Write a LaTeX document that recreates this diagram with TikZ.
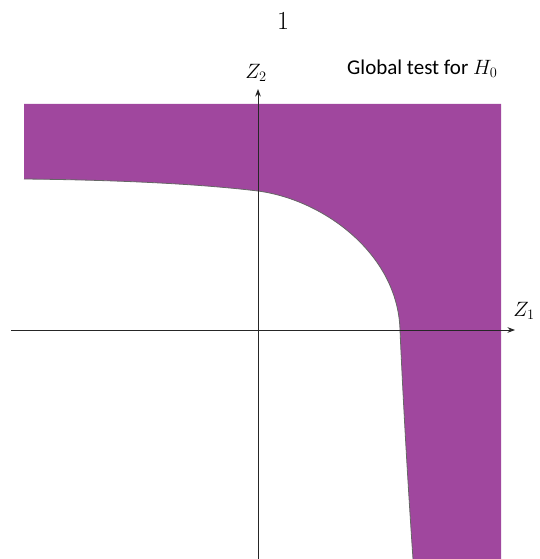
\documentclass[tikz,border=0pt]{standalone}
\usepackage{fontspec}
\usepackage{amsmath}
\usepackage{tikz}
\usetikzlibrary{arrows.meta,positioning}
\newfontfamily\labelfont{Carlito}
\definecolor{regionpurple}{HTML}{A0479E}

\begin{document}
\begin{tikzpicture}[x=1pt,y=-1pt,>=Stealth,
 axis/.style={draw=black!85,line width=1pt},
 axislabel/.style={inner sep=0pt,font=\fontsize{20}{20}\selectfont},
 region/.style={fill=regionpurple,draw=none}]
 \useasboundingbox (0,0) rectangle (539,559);
 % rejection region
 \path[region] (24,104) -- (501,104) -- (501,559) -- (413,559)
   .. controls (409,500) and (404,420) .. (400,330)
   .. controls (398,255) and (325,200) .. (258,191)
   .. controls (200,184) and (120,180) .. (24,179) -- cycle;
 \draw[black!60,line width=0.8pt] (413,559)
   .. controls (409,500) and (404,420) .. (400,330)
   .. controls (398,255) and (325,200) .. (258,191)
   .. controls (200,184) and (120,180) .. (24,179);
 % axes
 \coordinate (xstart) at (11,330);
 \coordinate (xend) at (515,330);
 \coordinate (ystart) at (258,559);
 \coordinate (yend) at (258,89);
 \draw[axis,->] (xstart) -- (xend);
 \draw[axis,->] (ystart) -- (yend);
 \node[axislabel] (zone) at (524,311) {$Z_1$};
 \node[axislabel] (ztwo) at (256,73) {$Z_2$};
 \node[inner sep=0pt,font=\fontsize{26}{26}\selectfont] (pagenum) at (283,21) {1};
 \node[inner sep=0pt,anchor=west,font=\labelfont\fontsize{21}{21}\selectfont] (title) at (347,69) {Global test for $H_0$};
\end{tikzpicture}
\end{document}
